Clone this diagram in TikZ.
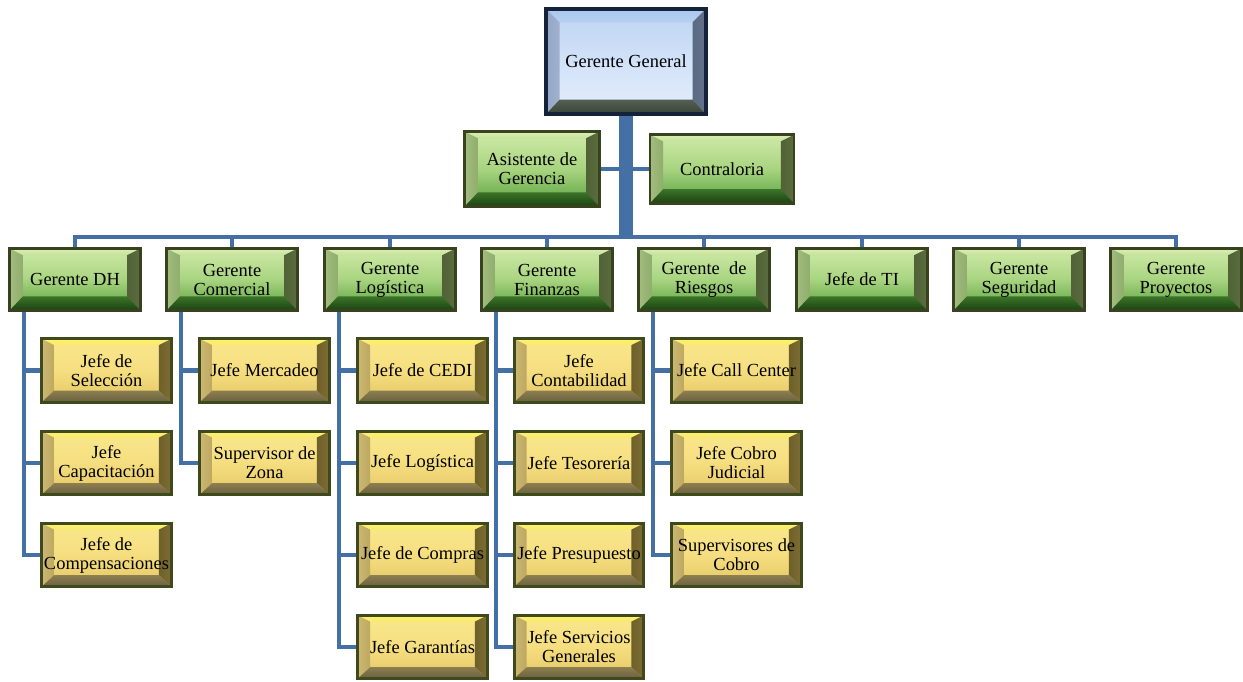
\documentclass[tikz,border=0pt]{standalone}
\usepackage{fontspec}
\setmainfont{Liberation Serif}
\pgfdeclarelayer{background}
\pgfsetlayers{background,main}

% connector blue
\definecolor{linkblue}{RGB}{68,112,166}
% green manager boxes
\definecolor{gBorder}{RGB}{56,66,30}
\definecolor{gFaceA}{RGB}{208,234,168}
\definecolor{gFaceM}{RGB}{168,212,128}
\definecolor{gFaceB}{RGB}{88,160,62}
\definecolor{gtopA}{RGB}{218,238,180}
\definecolor{gtopB}{RGB}{196,226,154}
\definecolor{gleftA}{RGB}{162,188,126}
\definecolor{gleftB}{RGB}{143,174,108}
\definecolor{grightA}{RGB}{80,98,54}
\definecolor{grightB}{RGB}{92,110,62}
\definecolor{gbotA}{RGB}{59,116,40}
\definecolor{gbotB}{RGB}{28,66,18}
% gold staff boxes
\definecolor{yBorder}{RGB}{62,74,28}
\definecolor{yFaceA}{RGB}{250,232,140}
\definecolor{yFaceM}{RGB}{245,222,128}
\definecolor{yFaceB}{RGB}{228,198,100}
\definecolor{ytopA}{RGB}{255,243,110}
\definecolor{ytopB}{RGB}{250,232,108}
\definecolor{yleftA}{RGB}{204,184,116}
\definecolor{yleftB}{RGB}{190,168,96}
\definecolor{yrightA}{RGB}{110,96,42}
\definecolor{yrightB}{RGB}{126,110,52}
\definecolor{ybotA}{RGB}{140,126,80}
\definecolor{ybotB}{RGB}{106,96,64}
% blue top box
\definecolor{bBorder}{RGB}{20,34,58}
\definecolor{bFaceA}{RGB}{188,212,242}
\definecolor{bFaceM}{RGB}{210,226,248}
\definecolor{bFaceB}{RGB}{228,238,253}
\definecolor{btopA}{RGB}{170,200,238}
\definecolor{btopB}{RGB}{182,208,240}
\definecolor{bleftA}{RGB}{150,166,198}
\definecolor{bleftB}{RGB}{160,176,206}
\definecolor{brightA}{RGB}{90,106,130}
\definecolor{brightB}{RGB}{100,114,138}
\definecolor{bbotA}{RGB}{84,94,84}
\definecolor{bbotB}{RGB}{58,70,58}

% four bevel faces inside a node: #1 colour prefix, #2 top, #3 sides, #4 bottom
\newcommand\bevelfaces[4]{%
  \coordinate (bvNW) at (path picture bounding box.north west);
  \coordinate (bvNE) at (path picture bounding box.north east);
  \coordinate (bvSW) at (path picture bounding box.south west);
  \coordinate (bvSE) at (path picture bounding box.south east);
  \coordinate (bvnw) at ([xshift=#3,yshift=-#2]bvNW);
  \coordinate (bvne) at ([xshift=-#3,yshift=-#2]bvNE);
  \coordinate (bvsw) at ([xshift=#3,yshift=#4]bvSW);
  \coordinate (bvse) at ([xshift=-#3,yshift=#4]bvSE);
  \shade[top color=#1topA,bottom color=#1topB] (bvNW) -- (bvNE) -- (bvne) -- (bvnw) -- cycle;
  \shade[left color=#1leftA,right color=#1leftB] (bvNW) -- (bvnw) -- (bvsw) -- (bvSW) -- cycle;
  \shade[left color=#1rightA,right color=#1rightB] (bvNE) -- (bvne) -- (bvse) -- (bvSE) -- cycle;
  \shade[top color=#1botA,bottom color=#1botB] (bvSW) -- (bvsw) -- (bvse) -- (bvSE) -- cycle;
}

\tikzset{
  box/.style={draw, rectangle, inner sep=1pt, align=center, text=black,
    font=\fontsize{10.5}{10.8}\selectfont},
  bluebox/.style={box, draw=bBorder, line width=2.2pt,
    top color=bFaceA, bottom color=bFaceB, middle color=bFaceM,
    minimum width=90.7pt, minimum height=59.5pt,
    path picture={\bevelfaces{b}{7.5pt}{7.5pt}{8pt}}},
  greenbox/.style={box, draw=gBorder, line width=1.6pt,
    top color=gFaceA, bottom color=gFaceB, middle color=gFaceM,
    minimum width=74.3pt, minimum height=35.2pt,
    path picture={\bevelfaces{g}{3.8pt}{7.5pt}{8pt}}},
  goldbox/.style={box, draw=yBorder, line width=1.6pt,
    top color=yFaceA, bottom color=yFaceB, middle color=yFaceM,
    minimum width=73.7pt, minimum height=36pt,
    path picture={\bevelfaces{y}{3.5pt}{7pt}{6.5pt}}},
  conn/.style={draw=linkblue, line width=2.8pt},
  trunk/.style={draw=linkblue, line width=8pt},
}

\begin{document}
\begin{tikzpicture}[x=0.02cm,y=-0.02cm]
\useasboundingbox (0,0) rectangle (1243,681);

% top of the chart
\node[bluebox] (gg) at (626,61.5) {Gerente General};
\node[greenbox, minimum width=76.5pt, minimum height=42.5pt] (asis) at (532,169) {Asistente de\\Gerencia};
\node[greenbox, minimum width=82pt, minimum height=39pt] (contra) at (722,169) {Contraloria};

% managers
\node[greenbox] (dh)  at (75,279.5)   {Gerente DH};
\node[greenbox] (com) at (232,279.5)  {Gerente\\Comercial};
\node[greenbox] (log) at (390,279.5)  {Gerente\\Logística};
\node[greenbox] (fin) at (547,279.5)  {Gerente\\Finanzas};
\node[greenbox] (rie) at (704,279.5)  {Gerente\ \ de\\Riesgos};
\node[greenbox] (ti)  at (862,279.5)  {Jefe de TI};
\node[greenbox] (seg) at (1019,279.5) {Gerente\\Seguridad};
\node[greenbox] (pro) at (1176,279.5) {Gerente\\Proyectos};

% staff under Gerente DH
\node[goldbox] (dh1) at (106.5,370.5) {Jefe de\\Selección};
\node[goldbox] (dh2) at (106.5,463)   {Jefe\\Capacitación};
\node[goldbox] (dh3) at (106.5,555)   {Jefe de\\Compensaciones};
% staff under Gerente Comercial
\node[goldbox] (com1) at (264.5,370.5) {Jefe Mercadeo};
\node[goldbox] (com2) at (264.5,463)   {Supervisor de\\Zona};
% staff under Gerente Logística
\node[goldbox] (log1) at (422.5,370.5) {Jefe de CEDI};
\node[goldbox] (log2) at (422.5,463)   {Jefe Logística};
\node[goldbox] (log3) at (422.5,555)   {Jefe de Compras};
\node[goldbox] (log4) at (422.5,647)   {Jefe Garantías};
% staff under Gerente Finanzas
\node[goldbox] (fin1) at (579,370.5) {Jefe\\Contabilidad};
\node[goldbox] (fin2) at (579,463)   {Jefe Tesorería};
\node[goldbox] (fin3) at (579,555)   {Jefe Presupuesto};
\node[goldbox] (fin4) at (579,647)   {Jefe Servicios\\Generales};
% staff under Gerente de Riesgos
\node[goldbox] (rie1) at (736.5,370.5) {Jefe Call Center};
\node[goldbox] (rie2) at (736.5,463)   {Jefe Cobro\\Judicial};
\node[goldbox] (rie3) at (736.5,555)   {Supervisores de\\Cobro};

% rails and bus
\coordinate (bus) at (626,237);
\coordinate (v1) at (24,0);
\coordinate (v2) at (181,0);
\coordinate (v3) at (339,0);
\coordinate (v4) at (496,0);
\coordinate (v5) at (653,0);

\begin{pgfonlayer}{background}
  \draw[conn] (asis.east) -- (contra.west);
  \foreach \m in {dh,com,log,fin,rie,ti,seg,pro}
    \draw[conn] (\m.north) |- (bus);
  \draw[trunk] (gg.south) -- (bus);
  \foreach \s in {dh1,dh2,dh3} \draw[conn] (dh.south -| v1) |- (\s.west);
  \foreach \s in {com1,com2} \draw[conn] (com.south -| v2) |- (\s.west);
  \foreach \s in {log1,log2,log3,log4} \draw[conn] (log.south -| v3) |- (\s.west);
  \foreach \s in {fin1,fin2,fin3,fin4} \draw[conn] (fin.south -| v4) |- (\s.west);
  \foreach \s in {rie1,rie2,rie3} \draw[conn] (rie.south -| v5) |- (\s.west);
\end{pgfonlayer}
\end{tikzpicture}
\end{document}
